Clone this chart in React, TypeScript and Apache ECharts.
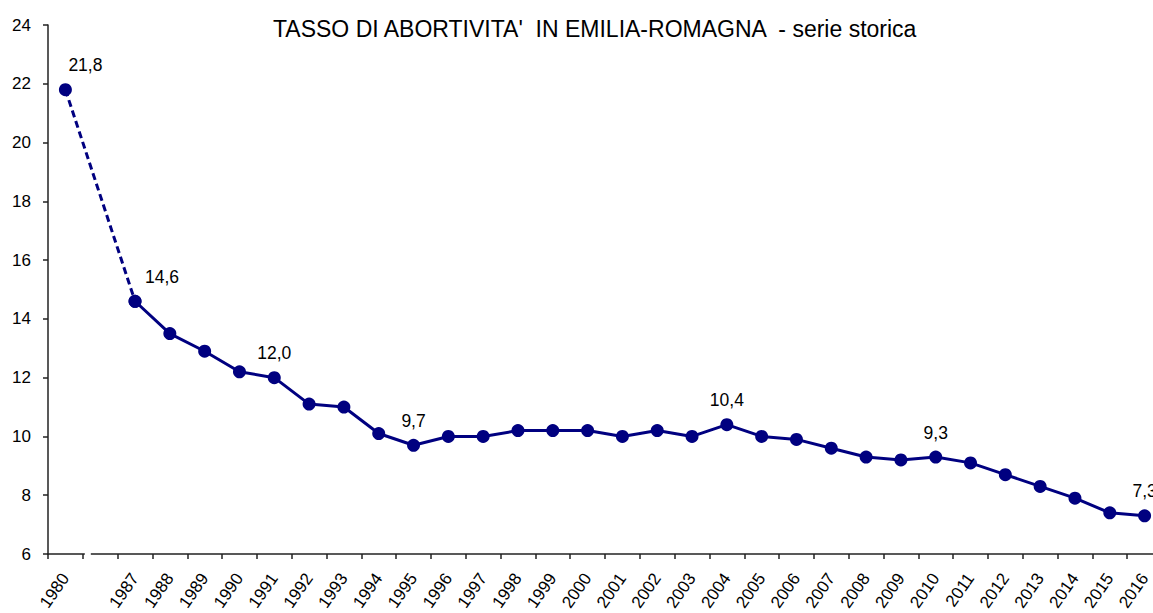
import React, { useEffect, useRef } from "react";
import * as echarts from "echarts";

const categories = [
  "1980", "", "1987", "1988", "1989", "1990", "1991", "1992", "1993", "1994",
  "1995", "1996", "1997", "1998", "1999", "2000", "2001", "2002", "2003", "2004",
  "2005", "2006", "2007", "2008", "2009", "2010", "2011", "2012", "2013", "2014",
  "2015", "2016",
];

const rates: (number | null)[] = [
  21.8, null, 14.6, 13.5, 12.9, 12.2, 12.0, 11.1, 11.0, 10.1,
  9.7, 10.0, 10.0, 10.2, 10.2, 10.2, 10.0, 10.2, 10.0, 10.4,
  10.0, 9.9, 9.6, 9.3, 9.2, 9.3, 9.1, 8.7, 8.3, 7.9,
  7.4, 7.3,
];

const labelledYears = ["1980", "1987", "1991", "1995", "2004", "2010", "2016"];
const shiftedLabels: Record<string, number> = { "1980": 20, "1987": 27 };

const yTicks = { min: 6, max: 24, interval: 2 };

const TITLE = "TASSO DI ABORTIVITA'  IN EMILIA-ROMAGNA  - serie storica";
const NAVY = "#000080";
const FONT = "'Liberation Sans', Arial, sans-serif";

const fmt = (v: number) => v.toFixed(1).replace(".", ",");

function buildItem(i: number, v: number | null) {
  if (v === null) return null;
  const year = categories[i];
  if (labelledYears.indexOf(year) < 0) return v;
  return {
    value: v,
    label: {
      show: true,
      position: "top",
      distance: 9,
      offset: [shiftedLabels[year] || 0, 0],
      formatter: () => fmt(v),
      color: "#000",
      fontSize: 17.5,
      fontFamily: FONT,
    },
  };
}

export default function App() {
  const ref = useRef<HTMLDivElement>(null);

  useEffect(() => {
    if (!ref.current) return;
    const chart = echarts.init(ref.current, undefined, { renderer: "svg" });

    const dashedData = rates.map((v, i) => (i <= 2 ? buildItem(i, v) : null));
    const solidData = rates.map((v, i) => (i >= 2 ? buildItem(i, v) : null));
    dashedData[2] = rates[2];

    chart.setOption({
      animation: false,
      backgroundColor: "#fff",
      title: {
        text: TITLE,
        left: 268,
        top: 12,
        textStyle: { fontFamily: FONT, fontSize: 23, fontWeight: "normal", color: "#000" },
      },
      grid: {
        left: 48,
        right: -9,
        top: 25,
        bottom: 59,
        containLabel: false,
        outerBoundsMode: "none",
      },
      xAxis: {
        type: "category",
        data: categories,
        boundaryGap: true,
        axisLine: { show: true, lineStyle: { color: "#222", width: 1.5 } },
        axisTick: { show: true, length: 5, interval: 0, lineStyle: { color: "#222", width: 1.5 } },
        axisLabel: {
          interval: 0,
          rotate: 55,
          margin: 21,
          color: "#000",
          fontSize: 17,
          fontFamily: FONT,
          hideOverlap: false,
        },
        splitLine: { show: false },
      },
      yAxis: {
        type: "value",
        min: yTicks.min,
        max: yTicks.max,
        interval: yTicks.interval,
        axisLine: { show: true, lineStyle: { color: "#222", width: 1.5 } },
        axisTick: { show: true, length: 5, lineStyle: { color: "#222", width: 1.5 } },
        axisLabel: { color: "#000", fontSize: 17, fontFamily: FONT, margin: 17 },
        splitLine: { show: false },
      },
      series: [
        {
          type: "line",
          data: dashedData,
          connectNulls: true,
          symbol: "circle",
          symbolSize: 13,
          itemStyle: { color: NAVY },
          lineStyle: { color: NAVY, width: 3, type: [7, 4] },
          z: 2,
        },
        {
          type: "line",
          data: solidData,
          connectNulls: false,
          symbol: "circle",
          symbolSize: 13,
          itemStyle: { color: NAVY },
          lineStyle: { color: NAVY, width: 3 },
          z: 3,
        },
      ],
    });

    const p0 = chart.convertToPixel({ xAxisIndex: 0 }, 0) as number;
    const p1 = chart.convertToPixel({ xAxisIndex: 0 }, 1) as number;
    const axisY = chart.convertToPixel({ yAxisIndex: 0 }, yTicks.min) as number;
    const boundary = (p0 + p1) / 2;
    chart.setOption({
      graphic: [
        {
          type: "rect",
          shape: { x: boundary + 2, y: axisY - 2, width: 6, height: 4 },
          style: { fill: "#fff" },
          z: 100,
        },
      ],
    });

    return () => chart.dispose();
  }, []);

  return (
    <div
      ref={ref}
      style={{ position: "fixed", left: 0, top: 0, width: 1153, height: 613, background: "#fff" }}
    />
  );
}
